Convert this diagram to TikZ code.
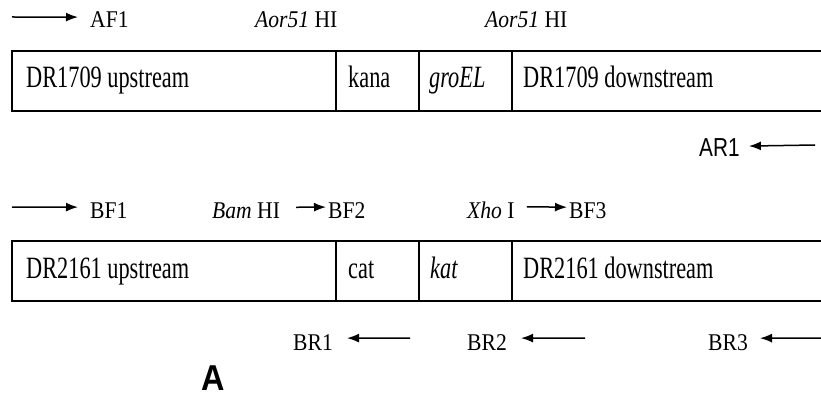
\documentclass[tikz,border=0pt]{standalone}
\usepackage{fontspec}
\setmainfont{Liberation Serif}[FakeStretch=0.72]
\newfontfamily\lblfont{Liberation Serif}[FakeStretch=0.9]
\newfontfamily\arsans{Liberation Sans}[FakeStretch=0.8]
\newfontfamily\arsansA{Liberation Sans}[FakeStretch=0.9]
\usetikzlibrary{arrows.meta}
\begin{document}
\begin{tikzpicture}[x=1pt,y=-1pt,
  boxtext/.style={anchor=base west,inner sep=0pt,font=\fontsize{31}{36}\selectfont},
  lbl/.style={anchor=base west,inner sep=0pt,font=\lblfont\fontsize{24}{28}\selectfont},
  sanslbl/.style={anchor=base west,inner sep=0pt,font=\arsans\fontsize{26}{30}\selectfont},
  arr/.style={-{Latex[length=12pt,width=9pt]},line width=1.5pt},
  frame/.style={line width=1.8pt},
  divider/.style={line width=1.2pt}]
\fill[white] (0,0) rectangle (821,398);
\useasboundingbox (0,0) rectangle (821,398);

% ---------- construct A (DR1709) ----------
\node[lbl] (af1) at (90,28) {AF1};
\coordinate (afs) at (12,17);
\draw[arr] (afs) -- ([xshift=-12pt,yshift=3pt]af1.west);
\node[lbl] (aorA) at (255,28) {\textit{Aor51} HI};
\node[lbl] (aorB) at (485,28) {\textit{Aor51} HI};

\draw[frame] (821,51) -- (12,51) -- (12,111) -- (821,111);
\draw[divider] (336,51) -- (336,111);
\draw[divider] (419,51) -- (419,111);
\draw[divider] (512,51) -- (512,111);
\node[boxtext] (up1) at (26,88) {DR1709 upstream};
\node[boxtext] (kana) at (348,88) {kana};
\node[boxtext] (groel) at (429,88) {\textit{groEL}};
\node[boxtext] (down1) at (523,88) {DR1709 downstream};

\node[sanslbl] (ar1) at (699,157) {AR1};
\coordinate (ar1s) at (815,145);
\draw[arr] (ar1s) -- ([xshift=9pt,yshift=2pt]ar1.east);

% ---------- construct B (DR2161) ----------
\node[lbl] (bf1) at (90,218) {BF1};
\coordinate (bfs) at (12,207);
\draw[arr] (bfs) -- ([xshift=-12pt,yshift=3pt]bf1.west);
\node[lbl] (bam) at (212,218) {\textit{Bam} HI};
\node[lbl] (bf2) at (328,218) {BF2};
\draw[arr] ([xshift=16pt,yshift=3pt]bam.east) -- ([xshift=-2pt,yshift=3pt]bf2.west);
\node[lbl] (xho) at (467,218) {\textit{Xho} I};
\node[lbl] (bf3) at (569,218) {BF3};
\draw[arr] ([xshift=12pt,yshift=3pt]xho.east) -- ([xshift=-2pt,yshift=3pt]bf3.west);

\draw[frame] (821,241) -- (12,241) -- (12,301) -- (821,301);
\draw[divider] (336,241) -- (336,301);
\draw[divider] (419,241) -- (419,301);
\draw[divider] (512,241) -- (512,301);
\node[boxtext] (up2) at (26,278) {DR2161 upstream};
\node[boxtext] (cat) at (348,278) {cat};
\node[boxtext] (kat) at (430,278) {\textit{kat}};
\node[boxtext] (down2) at (523,278) {DR2161 downstream};

\node[lbl] (br1) at (293,350) {BR1};
\coordinate (br1s) at (410,338);
\draw[arr] (br1s) -- ([xshift=14pt,yshift=4pt]br1.east);
\node[lbl] (br2) at (467,350) {BR2};
\coordinate (br2s) at (585,338);
\draw[arr] (br2s) -- ([xshift=14pt,yshift=4pt]br2.east);
\node[lbl] (br3) at (708,350) {BR3};
\coordinate (br3s) at (821,338);
\draw[arr] (br3s) -- ([xshift=12pt,yshift=4pt]br3.east);

\node[anchor=base west,inner sep=0pt,font=\arsansA\bfseries\fontsize{36}{40}\selectfont] (lblA) at (201,390) {A};
\end{tikzpicture}
\end{document}
